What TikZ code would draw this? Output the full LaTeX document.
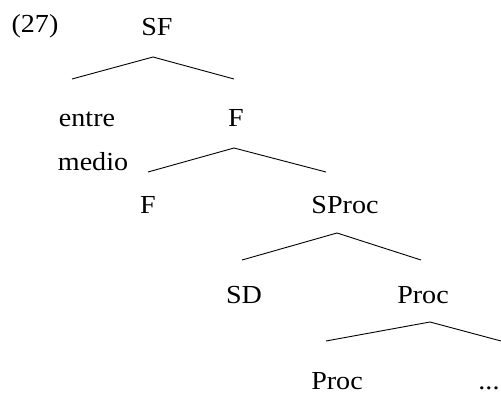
\documentclass[tikz,border=0pt]{standalone}
\usepackage{fontspec}
\setmainfont{Liberation Serif}[FakeStretch=1.08]
\begin{document}
\begin{tikzpicture}[x=1pt,y=-1pt,font=\fontsize{26}{30}\selectfont,
  cat/.style={anchor=base,inner sep=0pt},
  branch/.style={draw,line width=0.9pt,-}]
\useasboundingbox (0,0) rectangle (501,393);
\node[cat] (ex) at (35,33) {(27)};
\node[cat] (sf) at (157,36) {SF};
\node[cat] (entre) at (87,127) {entre};
\node[cat] (f1) at (236,127) {F};
\node[cat] (medio) at (93,171) {medio};
\node[cat] (f2) at (148,214) {F};
\node[cat] (sproc) at (345,214) {SProc};
\node[cat] (sd) at (244,303) {SD};
\node[cat] (proc1) at (423,303) {Proc};
\node[cat] (proc2) at (337,389) {Proc};
\node[cat] (dots) at (489,389) {...};
% roofs
\coordinate (sf-t) at (153,57);
\coordinate (sf-l) at (72,79);
\coordinate (sf-r) at (234,79);
\coordinate (f1-t) at (234,148);
\coordinate (f1-l) at (148,172);
\coordinate (f1-r) at (326,172);
\coordinate (sproc-t) at (337,233);
\coordinate (sproc-l) at (242,260);
\coordinate (sproc-r) at (421,260);
\coordinate (proc1-t) at (430,322);
\coordinate (proc1-l) at (326,341);
\coordinate (proc1-r) at (501,341);
\path[branch] (sf-l) -- (sf-t) -- (sf-r);
\path[branch] (f1-l) -- (f1-t) -- (f1-r);
\path[branch] (sproc-l) -- (sproc-t) -- (sproc-r);
\path[branch] (proc1-l) -- (proc1-t) -- (proc1-r);
\end{tikzpicture}
\end{document}
